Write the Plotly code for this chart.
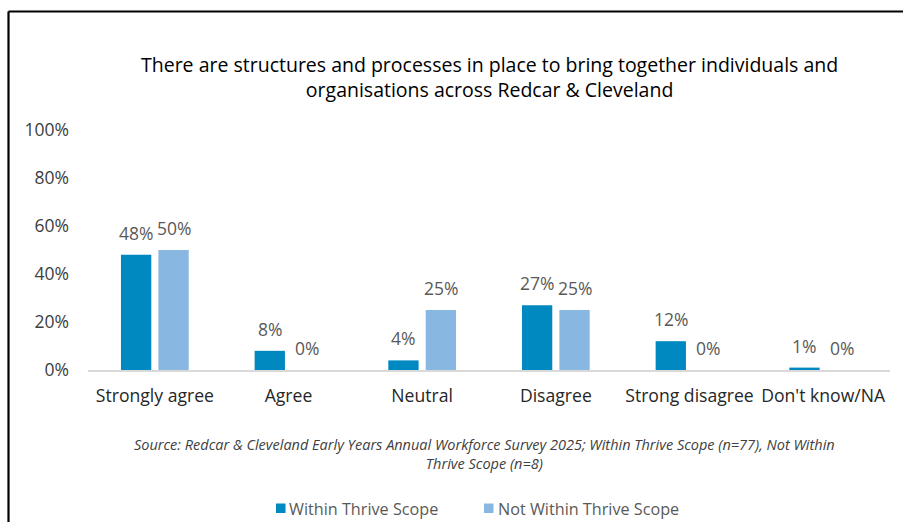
import plotly.graph_objects as go

categories = ["Strongly agree", "Agree", "Neutral", "Disagree", "Strong disagree", "Don't know/NA"]
within_scope = [0.48, 0.08, 0.04, 0.27, 0.12, 0.01]
not_within_scope = [0.50, 0.00, 0.25, 0.25, 0.00, 0.00]
series_names = ["Within Thrive Scope", "Not Within Thrive Scope"]
y_ticks = [0, 0.2, 0.4, 0.6, 0.8, 1.0]
y_tick_labels = ["0%", "20%", "40%", "60%", "80%", "100%"]

title_text = ("There are structures and processes in place to bring together individuals and<br>"
              "organisations across Redcar &amp; Cleveland")
source_text = ("Source: Redcar &amp; Cleveland Early Years Annual Workforce Survey 2025; Within Thrive Scope (n=77), Not Within<br>"
               "Thrive Scope (n=8)")

FONT = "Open Sans, sans-serif"
dark_blue = "#0088C1"
light_blue = "#88B8E1"
label_grey = "#595959"

BAR_GAP = 0.44
GROUP_GAP = 0.19
L, R, T, B = 88, 13, 130, 152
W, H = 903, 522
PLOT_W = W - L - R
PLOT_H = H - T - B
slot = PLOT_W / len(categories) * (1 - BAR_GAP) / 2  # width of one bar slot in px


def px_x(px):
    return (px - L) / PLOT_W


def px_y(py):
    return (H - B - py) / PLOT_H


series = [(series_names[0], within_scope, dark_blue),
          (series_names[1], not_within_scope, light_blue)]

fig = go.Figure()
for name, vals, col in series:
    fig.add_trace(go.Bar(
        x=categories, y=vals, name=name, showlegend=False,
        marker=dict(color=col, line=dict(width=0)),
    ))

# value labels above each bar
annotations = []
for j, (name, vals, col) in enumerate(series):
    for cat, v in zip(categories, vals):
        annotations.append(dict(
            x=cat, y=v, xref="x", yref="y", text=f"{round(v * 100)}%",
            xshift=(j - 0.5) * slot, yshift=8, yanchor="bottom", xanchor="center",
            showarrow=False, font=dict(family=FONT, size=17.5, color=label_grey),
        ))

# legend: small swatch + label per series
legend_swatch_x = [276, 484]
legend_text_x = [287, 496]
shapes = []
for (name, vals, col), sx, tx in zip(series, legend_swatch_x, legend_text_x):
    shapes.append(dict(type="rect", xref="paper", yref="paper",
                       x0=px_x(sx), x1=px_x(sx + 9.5), y0=px_y(513), y1=px_y(503.5),
                       fillcolor=col, line=dict(width=0)))
    annotations.append(dict(text=name, xref="paper", yref="paper", x=px_x(tx), y=px_y(508.5),
                            xanchor="left", yanchor="middle", showarrow=False,
                            font=dict(family=FONT, size=16.2, color=label_grey)))

annotations += [
    dict(text=title_text, xref="paper", yref="paper", x=0.5, y=px_y(76.5), xanchor="center",
         yanchor="middle", showarrow=False,
         font=dict(family=FONT, size=19.5, color="black")),
    dict(text=source_text, xref="paper", yref="paper", x=0.495, y=px_y(454), xanchor="center",
         yanchor="middle", showarrow=False,
         font=dict(family=FONT, size=14.5, color="#404040", style="italic")),
]

# outer frame (top and left edges)
shapes += [
    dict(type="line", xref="paper", yref="paper", x0=px_x(8.5), x1=px_x(W + 10),
         y0=px_y(11.5), y1=px_y(11.5), line=dict(color="black", width=2.2)),
    dict(type="line", xref="paper", yref="paper", x0=px_x(8.5), x1=px_x(8.5),
         y0=px_y(11.5), y1=px_y(H + 10), line=dict(color="black", width=2.2)),
]

fig.update_layout(
    width=W, height=H,
    margin=dict(l=L, r=R, t=T, b=B, autoexpand=False),
    paper_bgcolor="white", plot_bgcolor="white",
    barmode="group", bargap=BAR_GAP, bargroupgap=GROUP_GAP,
    font=dict(family=FONT, color="#404040"),
    showlegend=False,
    xaxis=dict(showline=True, linecolor="#D9D9D9", linewidth=2, ticks="",
               tickfont=dict(family=FONT, size=17.6, color="#262626"),
               ticklabelstandoff=9, showgrid=False, zeroline=False),
    yaxis=dict(range=[0, 1.0], tickvals=y_ticks, ticktext=y_tick_labels, showgrid=False,
               zeroline=False, showline=False, ticks="",
               tickfont=dict(family=FONT, size=17.5, color="#404040"),
               ticklabelstandoff=18),
    annotations=annotations,
    shapes=shapes,
)

fig.write_html("out.html")
